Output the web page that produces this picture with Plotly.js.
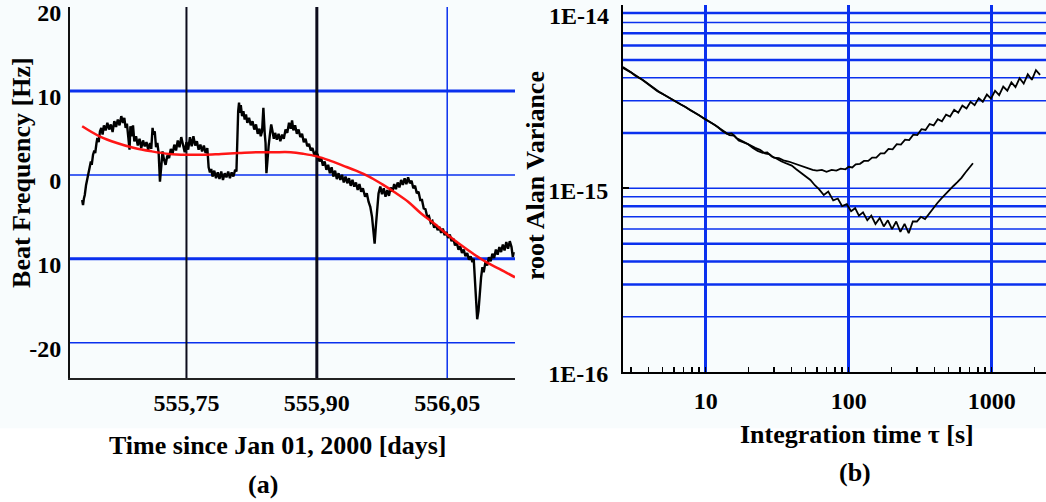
<!DOCTYPE html>
<html>
<head>
<meta charset="utf-8">
<script src="https://cdn.plot.ly/plotly-3.0.1.min.js"></script>
<style>html,body{margin:0;padding:0;background:#fff;}#chart{width:1046px;height:502px;}</style>
</head>
<body>
<div id="chart"></div>
<script>
// ---------- Panel (a): beat frequency vs time ----------
var beatTime = [
555.6300,555.6310,555.6320,555.6330,555.6345,555.6360,555.6375,555.6390,555.6400,555.6410,
555.6425,555.6440,555.6450,555.6465,555.6475,555.6490,555.6505,555.6520,555.6535,555.6550,
555.6570,555.6590,555.6610,555.6630,555.6650,555.6670,555.6690,555.6710,555.6730,555.6750,
555.6770,555.6785,555.6800,555.6815,555.6830,555.6845,555.6855,555.6870,555.6885,555.6900,
555.6920,555.6940,555.6960,555.6980,555.7000,555.7020,555.7040,555.7060,555.7080,555.7095,
555.7110,555.7120,555.7135,555.7150,555.7165,555.7180,555.7195,555.7210,555.7225,555.7240,
555.7260,555.7280,555.7300,555.7320,555.7340,555.7360,555.7380,555.7400,555.7420,555.7440,
555.7460,555.7480,555.7500,555.7520,555.7540,555.7560,555.7580,555.7600,555.7620,555.7640,
555.7660,555.7680,555.7700,555.7720,555.7740,555.7755,555.7770,555.7785,555.7800,555.7820,
555.7840,555.7860,555.7880,555.7900,555.7920,555.7940,555.7960,555.7980,555.8000,555.8020,
555.8040,555.8060,555.8075,555.8085,555.8095,555.8105,555.8115,555.8125,555.8140,555.8155,
555.8170,555.8185,555.8200,555.8220,555.8240,555.8260,555.8280,555.8300,555.8320,555.8340,
555.8355,555.8370,555.8385,555.8400,555.8410,555.8420,555.8430,555.8445,555.8460,555.8475,
555.8490,555.8505,555.8520,555.8540,555.8560,555.8580,555.8600,555.8620,555.8640,555.8660,
555.8680,555.8700,555.8715,555.8730,555.8750,555.8770,555.8790,555.8810,555.8830,555.8850,
555.8870,555.8890,555.8910,555.8930,555.8950,555.8970,555.8990,
555.9010,555.9030,555.9050,555.9070,555.9090,555.9110,555.9130,555.9150,555.9170,555.9190,
555.9210,555.9230,555.9250,555.9270,555.9290,555.9310,555.9330,555.9350,555.9370,555.9390,
555.9410,555.9430,555.9450,555.9470,555.9490,555.9510,555.9530,555.9555,555.9575,555.9595,
555.9615,555.9635,555.9650,555.9665,555.9680,555.9695,555.9710,555.9730,555.9750,555.9770,
555.9790,555.9810,555.9830,555.9850,555.9870,555.9890,555.9910,555.9930,555.9950,555.9970,
555.9990,556.0010,556.0030,556.0050,556.0070,556.0090,556.0110,556.0130,556.0150,556.0170,
556.0190,556.0210,556.0230,556.0250,556.0270,556.0290,556.0310,556.0330,556.0350,556.0370,
556.0390,556.0410,556.0430,556.0450,556.0470,556.0490,556.0510,556.0530,556.0550,556.0570,
556.0590,556.0610,556.0630,556.0650,556.0670,556.0690,556.0710,556.0730,556.0750,556.0770,
556.0790,556.0805,556.0815,556.0828,556.0845,556.0860,556.0875,556.0890,556.0905,556.0920,
556.0940,556.0960,556.0980,556.1000,556.1020,556.1040,556.1060,556.1080,556.1100,556.1120,
556.1140,556.1160,556.1180,556.1200,556.1220,556.1240,556.1255,556.1265
];
var beatFreq = [
-3.0,-3.6,-2.8,-2.4,-1.2,-0.3,0.4,1.0,1.6,1.2,
2.4,2.9,2.6,3.8,4.4,3.9,5.2,5.6,4.8,5.9,
5.3,6.2,5.4,6.0,5.1,6.4,5.7,6.6,5.9,7.0,
6.2,6.8,5.6,6.1,4.4,3.0,5.8,4.6,5.9,4.0,
4.6,3.5,4.3,3.2,4.1,3.4,3.9,3.0,3.8,3.1,
5.6,4.8,5.2,3.3,3.8,2.6,-0.8,1.6,2.8,1.9,
1.2,2.3,2.0,3.1,2.5,3.6,2.9,4.1,3.3,4.5,
3.6,2.7,3.9,3.0,4.5,3.4,4.6,3.5,4.0,3.0,
3.6,2.8,3.5,2.6,3.2,0.9,0.3,0.7,-0.2,0.5,
-0.4,0.3,-0.5,0.4,-0.6,0.2,-0.3,0.4,-0.4,0.3,
-0.2,0.6,0.4,5.2,7.6,8.6,7.4,8.3,7.0,7.6,
6.6,7.2,6.2,6.8,5.9,6.4,5.4,6.0,4.9,5.5,
4.6,5.2,8.0,5.0,3.8,0.2,1.8,3.4,4.8,6.0,
5.2,4.3,5.0,4.2,4.9,4.0,4.8,4.3,5.4,5.0,
6.2,5.5,6.5,5.3,5.9,4.9,5.4,4.5,4.9,3.9,
4.3,3.4,3.7,2.9,3.2,2.4,2.7,
2.4,1.6,2.0,1.1,1.6,0.6,1.2,0.2,0.9,-0.2,
0.5,-0.5,0.2,-0.6,0.0,-0.9,-0.2,-1.0,-0.4,-1.3,
-0.6,-1.4,-0.9,-1.8,-1.1,-2.0,-1.6,-2.6,-2.2,-3.2,
-3.8,-5.0,-6.4,-8.2,-6.0,-3.4,-2.2,-1.4,-2.3,-1.6,
-2.6,-1.8,-2.5,-1.5,-2.0,-1.1,-1.7,-0.9,-1.5,-0.6,
-1.2,-0.4,-1.1,-0.3,-1.0,-0.7,-1.6,-1.3,-2.2,-2.0,
-3.0,-3.0,-4.0,-4.1,-5.0,-4.9,-5.7,-5.5,-6.3,-5.9,
-6.6,-6.2,-6.9,-6.4,-7.2,-6.8,-7.5,-7.1,-7.9,-7.6,
-8.4,-8.1,-8.9,-8.5,-9.3,-8.9,-9.7,-9.3,-10.1,-9.7,
-10.4,-10.0,-12.0,-15.0,-17.2,-16.2,-13.6,-12.2,-11.0,-11.6,
-10.4,-10.8,-9.8,-10.3,-9.4,-9.9,-8.9,-9.5,-8.6,-9.2,
-8.3,-9.0,-8.0,-8.8,-7.9,-8.6,-9.8,-9.2
];
var fitTime = [555.630,555.650,555.670,555.690,555.710,555.730,555.750,555.770,555.790,555.810,
555.830,555.850,555.870,555.885,555.900,555.915,555.930,555.945,555.960,555.975,
555.990,556.005,556.020,556.035,556.050,556.065,556.080,556.095,556.110,556.128];
var fitFreq = [5.8,4.6,3.8,3.2,2.8,2.5,2.4,2.4,2.5,2.6,
2.7,2.7,2.7,2.5,2.2,1.7,1.1,0.5,-0.2,-1.1,
-2.1,-3.2,-4.6,-5.8,-7.1,-8.3,-9.4,-10.4,-11.2,-12.2];
var aTickVals = [555.75, 555.90, 556.05];
var aTickText = ['555,75', '555,90', '556,05'];
var aYTickVals = [20, 10, 0, -10, -20];
var aYTickText = ['20', '10', '0', '10', '-20'];

// ---------- Panel (b): root Allan variance ----------
var tauA = [2.64,2.8,3.0,3.2,3.4,3.6,3.8,4.0,4.3,4.6,5.0,5.4,5.8,6.2,6.7,7.2,7.8,8.4,9.0,9.7,
10.5,11.3,12.2,13.1,14.1,15.2,16.4,17.7,19.1,20.6,22.2,24,26,28,30,32.5,35,38,41,44,
48,52,56,60,65,70,76,82,88,95,100,106,112,120,128,137,146,156,167,178,
190,203,217,232,248,265,283,302,323,345,368,393,420,449,480,512,547,584,624,667,
712,760,812,867,926,989,1056,1128,1205,1287,1374,1468,1568,1675,1789,1910,2040,2180];
var adevA = [4.52e-15,4.42e-15,4.28e-15,4.12e-15,4.02e-15,3.90e-15,3.78e-15,3.66e-15,3.50e-15,3.38e-15,
3.26e-15,3.14e-15,3.06e-15,2.96e-15,2.86e-15,2.78e-15,2.66e-15,2.58e-15,2.50e-15,2.40e-15,
2.32e-15,2.24e-15,2.15e-15,2.05e-15,1.98e-15,1.99e-15,1.88e-15,1.82e-15,1.78e-15,1.72e-15,
1.66e-15,1.62e-15,1.55e-15,1.53e-15,1.47e-15,1.46e-15,1.42e-15,1.40e-15,1.37e-15,1.34e-15,
1.31e-15,1.28e-15,1.26e-15,1.25e-15,1.26e-15,1.23e-15,1.26e-15,1.25e-15,1.28e-15,1.27e-15,
1.31e-15,1.30e-15,1.35e-15,1.36e-15,1.41e-15,1.41e-15,1.47e-15,1.47e-15,1.55e-15,1.55e-15,
1.64e-15,1.63e-15,1.74e-15,1.73e-15,1.84e-15,1.83e-15,1.96e-15,1.95e-15,2.10e-15,2.08e-15,
2.24e-15,2.20e-15,2.38e-15,2.32e-15,2.52e-15,2.46e-15,2.68e-15,2.58e-15,2.82e-15,2.72e-15,
2.96e-15,2.84e-15,3.10e-15,2.96e-15,3.24e-15,3.08e-15,3.40e-15,3.22e-15,3.58e-15,3.40e-15,
3.78e-15,3.56e-15,3.98e-15,3.72e-15,4.18e-15,3.90e-15,4.40e-15,4.15e-15];
var tauB = [2.64,2.9,3.1,3.3,3.5,3.7,3.9,4.15,4.45,4.8,5.2,5.6,6.0,6.45,6.95,7.5,8.1,8.7,9.35,10.1,
10.9,11.75,12.65,13.6,14.65,15.8,17,18.4,19.8,21.4,23.1,25,27,29,31,34,37,40,43,46,
50,54,58,62,67,72,78,84,90,97,104,111,118,126,135,144,154,165,176,188,
201,215,230,246,263,281,300,320,342,365,390,416,444,474,506,540,576,615,656,700,740];
var adevB = [4.58e-15,4.38e-15,4.22e-15,4.08e-15,3.97e-15,3.85e-15,3.73e-15,3.60e-15,3.45e-15,3.33e-15,
3.21e-15,3.11e-15,3.02e-15,2.92e-15,2.83e-15,2.73e-15,2.63e-15,2.54e-15,2.46e-15,2.37e-15,
2.28e-15,2.20e-15,2.11e-15,2.04e-15,1.95e-15,1.94e-15,1.82e-15,1.78e-15,1.74e-15,1.66e-15,
1.60e-15,1.56e-15,1.57e-15,1.49e-15,1.46e-15,1.40e-15,1.36e-15,1.33e-15,1.27e-15,1.22e-15,
1.16e-15,1.11e-15,1.04e-15,0.99e-15,0.92e-15,0.96e-15,0.86e-15,0.88e-15,0.80e-15,0.82e-15,
0.75e-15,0.78e-15,0.71e-15,0.74e-15,0.67e-15,0.71e-15,0.64e-15,0.69e-15,0.62e-15,0.67e-15,
0.60e-15,0.66e-15,0.58e-15,0.64e-15,0.57e-15,0.66e-15,0.66e-15,0.70e-15,0.68e-15,0.73e-15,
0.78e-15,0.83e-15,0.88e-15,0.93e-15,0.98e-15,1.03e-15,1.08e-15,1.14e-15,1.22e-15,1.29e-15,1.37e-15];
var bXTickVals = [10, 100, 1000];
var bXTickText = ['10', '100', '1000'];
var bYTickVals = [1e-16, 1e-15, 1e-14];
var bYTickText = ['1E-16', '1E-15', ''];
var bTopLabel = '1E-14';

// ---------- grid line styling (not data) ----------
var BLUE = '#0a30ee';
var DARK = '#0c0c1c';
var aHGrid = [[10, 3], [0, 1.5], [-10, 3], [-20, 1.5]];
var aVGrid = [[555.75, 2, DARK], [555.90, 3, DARK], [556.05, 1.5, BLUE]];
var bHGrid = [[9e-15,2.5],[8e-15,1.5],[7e-15,2.5],[6e-15,2.5],[5e-15,2.5],[4e-15,1.5],[3e-15,1.5],[2e-15,2.5],
  [1e-15,1.5],[9e-16,1.5],[8e-16,2.5],[7e-16,1.5],[6e-16,1.5],[5e-16,2.5],[4e-16,2.5],[3e-16,2.5],[2e-16,1.5]];

var shapes = [];
shapes.push({type:'rect', xref:'paper', yref:'paper', x0:0, x1:1, y0:0.147, y1:1, fillcolor:'#f8fcfd', line:{width:0}, layer:'below'});
aHGrid.forEach(function(g){ shapes.push({type:'line', xref:'x domain', yref:'y', x0:0, x1:1, y0:g[0], y1:g[0], line:{color:BLUE, width:g[1]}, layer:'below'}); });
aVGrid.forEach(function(g){ shapes.push({type:'line', xref:'x', yref:'y domain', x0:g[0], x1:g[0], y0:0, y1:1, line:{color:g[2], width:g[1]}, layer:'below'}); });
bHGrid.forEach(function(g){ shapes.push({type:'line', xref:'x2 domain', yref:'y2', x0:0, x1:1, y0:g[0], y1:g[0], line:{color:BLUE, width:g[1]}, layer:'below'}); });

var FONT = 'Liberation Serif, Times New Roman, serif';
var tickFont = {family:FONT, size:24, color:'#000', weight:'bold'};

var traces = [
  {x:beatTime, y:beatFreq, xaxis:'x', yaxis:'y', type:'scatter', mode:'lines', line:{color:'#000', width:2.4}, name:'beat'},
  {x:fitTime, y:fitFreq, xaxis:'x', yaxis:'y', type:'scatter', mode:'lines', line:{color:'rgba(255,10,10,0.95)', width:2.5, shape:'spline'}, name:'fit'},
  {x:tauA, y:adevA, xaxis:'x2', yaxis:'y2', type:'scatter', mode:'lines', line:{color:'#000', width:1.8}, name:'A'},
  {x:tauB, y:adevB, xaxis:'x2', yaxis:'y2', type:'scatter', mode:'lines', line:{color:'#000', width:1.8}, name:'B'}
];

function ann(text, x, y, angle, size, xanchor){
  return {text:text, xref:'paper', yref:'paper', x:x, y:y, xanchor:xanchor||'center', yanchor:'middle', showarrow:false,
    textangle:angle||0, font:{family:FONT, size:size||26, color:'#000', weight:'bold'}};
}

var layout = {
  width:1046, height:502, margin:{l:0, r:0, t:0, b:0}, showlegend:false,
  paper_bgcolor:'#ffffff', plot_bgcolor:'#f8fcfd',
  font:{family:FONT, color:'#000'},
  xaxis:{domain:[0.06692,0.49235], range:[555.616,556.128], showgrid:false, zeroline:false,
    tickmode:'array', tickvals:aTickVals, ticktext:aTickText, ticks:'', tickfont:tickFont, ticklabelstandoff:2,
    showline:true, linecolor:'#222', linewidth:2, anchor:'y'},
  yaxis:{domain:[0.24701,0.98606], range:[-24.2,20.0001], showgrid:false, zeroline:false,
    tickmode:'array', tickvals:aYTickVals, ticktext:aYTickText, ticks:'', tickfont:tickFont, ticklabelstandoff:2, ticklabelshift:6,
    ticklabeloverflow:'allow',
    showline:true, linecolor:'#111', linewidth:2, anchor:'x'},
  xaxis2:{domain:[0.5956,1.0], type:'log', range:[0.422,3.38], anchor:'y2',
    tickmode:'array', tickvals:bXTickVals, ticktext:bXTickText, tickfont:tickFont, ticklabelstandoff:6,
    showgrid:true, gridcolor:BLUE, gridwidth:2.5, zeroline:false, ticks:'',
    minor:{ticks:'inside', ticklen:5, tickcolor:'#000', tickwidth:1.5, dtick:'D1', showgrid:false},
    showline:true, linecolor:'#000', linewidth:2},
  yaxis2:{domain:[0.25896,0.99084], type:'log', range:[-16,-13.9995], anchor:'x2',
    tickmode:'array', tickvals:bYTickVals, ticktext:bYTickText, tickfont:tickFont, ticklabelstandoff:8, ticklabelshift:2,
    ticklabeloverflow:'allow',
    ticks:'inside', ticklen:6, tickcolor:'#000', tickwidth:2,
    showgrid:false, zeroline:false, showline:true, linecolor:'#000', linewidth:2},
  shapes:shapes,
  annotations:[
    ann('Beat Frequency [Hz]', 0.0210, 0.6574, -90),
    ann('Time since Jan 01, 2000 [days]', 0.2658, 0.1135),
    ann('(a)', 0.2514, 0.0339),
    ann('root Alan Variance', 0.5115, 0.6494, -90),
    ann('Integration time \u03c4 [s]', 0.8193, 0.1335),
    ann('(b)', 0.8174, 0.0578),
    ann(bTopLabel, 0.5841, 0.9681, 0, 24, 'right')
  ]
};

Plotly.newPlot('chart', traces, layout, {staticPlot:true, displayModeBar:false});
</script>
</body>
</html>
